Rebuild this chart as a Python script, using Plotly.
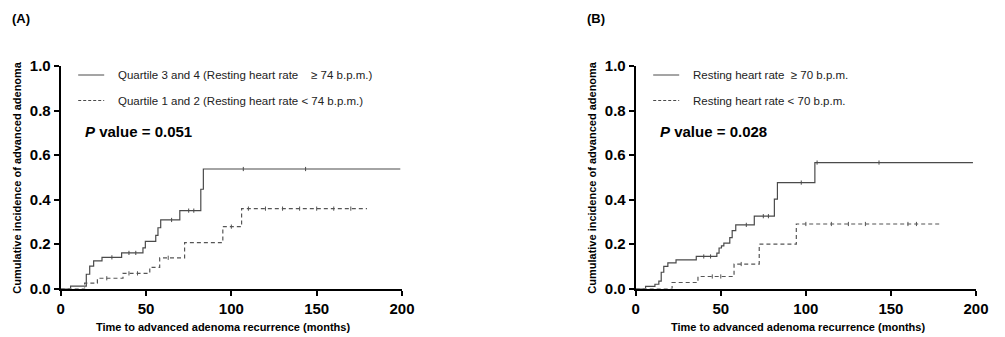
import plotly.graph_objects as go

# ---------------- data ----------------
a_hi_t = [0, 5.8, 15, 17, 19.3, 24.2, 35.7, 48.2, 49.6, 55.7, 57.0, 58.6, 69.8, 82.1, 83.6, 199]
a_hi_v = [0, 0.011, 0.064, 0.101, 0.124, 0.140, 0.160, 0.183, 0.212, 0.239, 0.273, 0.308, 0.350, 0.446, 0.537, 0.537]
a_lo_t = [0, 14, 21.5, 36.5, 52.2, 58, 72.6, 95, 106, 179.5]
a_lo_v = [0, 0.024, 0.046, 0.068, 0.095, 0.138, 0.206, 0.278, 0.359, 0.359]

b_hi_t = [0, 5.8, 11.3, 13.6, 15, 16.5, 18.9, 23.7, 35.6, 47.7, 49, 50.4, 51.8, 55.3, 56.7, 58.8, 69.7, 81.5, 83.3, 105.3, 198.2]
b_hi_v = [0, 0.010, 0.019, 0.033, 0.073, 0.099, 0.115, 0.129, 0.144, 0.159, 0.182, 0.192, 0.204, 0.229, 0.260, 0.286, 0.325, 0.402, 0.476, 0.566, 0.566]
b_lo_t = [0, 21.4, 36.6, 57.8, 72.6, 94.4, 179.3]
b_lo_v = [0, 0.027, 0.054, 0.110, 0.199, 0.290, 0.290]

# censored observations (tick marks)
a_hi_ct = [30, 40, 44, 65, 75, 78, 107, 143.5]
a_hi_cv = [0.140, 0.160, 0.160, 0.308, 0.350, 0.350, 0.537, 0.537]
a_lo_ct = [27, 40, 45, 63, 100, 110, 120, 130, 140, 150, 160, 170]
a_lo_cv = [0.046, 0.068, 0.068, 0.138, 0.278, 0.359, 0.359, 0.359, 0.359, 0.359, 0.359, 0.359]
b_hi_ct = [40, 44, 65, 75, 78, 97.3, 106.6, 143]
b_hi_cv = [0.144, 0.144, 0.286, 0.325, 0.325, 0.476, 0.566, 0.566]
b_lo_ct = [45, 50, 62, 100, 115, 125, 135, 160, 165]
b_lo_cv = [0.054, 0.054, 0.110, 0.290, 0.290, 0.290, 0.290, 0.290, 0.290]

x_ticks = [0, 50, 100, 150, 200]
y_ticks = [0.0, 0.2, 0.4, 0.6, 0.8, 1.0]
y_ticklabels = ["0.0", "0.2", "0.4", "0.6", "0.8", "1.0"]

panel_labels = ["(A)", "(B)"]
legend_hi = ["Quartile 3 and 4 (Resting heart rate    \u2265 74 b.p.m.)", "Resting heart rate  \u2265 70 b.p.m."]
legend_lo = ["Quartile 1 and 2 (Resting heart rate < 74 b.p.m.)", "Resting heart rate < 70 b.p.m."]
p_values = ["0.051", "0.028"]
x_title = "Time to advanced adenoma recurrence (months)"
y_title = "Cumulative incidence of advanced adenoma"

# ---------------- figure ----------------
W, H = 1005, 337
FONT = "Liberation Sans, Arial, sans-serif"
LINE_COL = "#4a4a4a"

def px_x(p):
    return p / W

def px_y(p):
    return 1 - p / H

fig = go.Figure()

panels = [
    dict(xa="x", ya="y", hi=(a_hi_t, a_hi_v, a_hi_ct, a_hi_cv), lo=(a_lo_t, a_lo_v, a_lo_ct, a_lo_cv),
         left=60.7, right=402.0),
    dict(xa="x2", ya="y2", hi=(b_hi_t, b_hi_v, b_hi_ct, b_hi_cv), lo=(b_lo_t, b_lo_v, b_lo_ct, b_lo_cv),
         left=635.7, right=976.0),
]

top_px, bot_px = 66.0, 288.5

for i, p in enumerate(panels):
    t, v, ct, cv = p["hi"]
    fig.add_trace(go.Scatter(x=t, y=v, mode="lines", line=dict(shape="hv", color=LINE_COL, width=1.2),
                             xaxis=p["xa"], yaxis=p["ya"], showlegend=False, hoverinfo="skip"))
    fig.add_trace(go.Scatter(x=ct, y=cv, mode="markers",
                             marker=dict(symbol="line-ns", size=3, line=dict(color=LINE_COL, width=1)),
                             xaxis=p["xa"], yaxis=p["ya"], showlegend=False, hoverinfo="skip"))
    t, v, ct, cv = p["lo"]
    fig.add_trace(go.Scatter(x=t, y=v, mode="lines", line=dict(shape="hv", color="#555555", width=1.2, dash="4px,3px"),
                             xaxis=p["xa"], yaxis=p["ya"], showlegend=False, hoverinfo="skip"))
    fig.add_trace(go.Scatter(x=ct, y=cv, mode="markers",
                             marker=dict(symbol="line-ns", size=3, line=dict(color="#555555", width=1)),
                             xaxis=p["xa"], yaxis=p["ya"], showlegend=False, hoverinfo="skip"))

axis_common = dict(showgrid=False, zeroline=False, showline=True, linecolor="black", linewidth=2,
                   ticks="outside", ticklen=5, tickwidth=2, tickcolor="black", automargin=False,
                   tickfont=dict(family=FONT, size=15, color="black", weight="bold"))

layout_axes = {}
for i, p in enumerate(panels):
    sfx = "" if i == 0 else str(i + 1)
    layout_axes["xaxis" + sfx] = dict(axis_common, domain=[px_x(p["left"]), px_x(p["right"])], range=[0, 200],
                                      tickvals=x_ticks, anchor="y" + sfx)
    layout_axes["yaxis" + sfx] = dict(axis_common, domain=[px_y(bot_px), px_y(top_px)], range=[0, 1.0],
                                      tickvals=y_ticks, ticktext=y_ticklabels, anchor="x" + sfx)

annotations = []
shapes = []
for i, p in enumerate(panels):
    left = p["left"]
    centre = (p["left"] + p["right"]) / 2
    # panel label
    annotations.append(dict(text="<b>%s</b>" % panel_labels[i], x=px_x(left - 51), y=px_y(19), xref="paper", yref="paper",
                            xanchor="left", yanchor="middle", showarrow=False,
                            font=dict(family=FONT, size=13, color="black")))
    # axis titles
    annotations.append(dict(text="<b>%s</b>" % x_title, x=px_x(centre - 8), y=px_y(327), xref="paper", yref="paper",
                            xanchor="center", yanchor="middle", showarrow=False,
                            font=dict(family=FONT, size=11, color="black")))
    annotations.append(dict(text="<b>%s</b>" % y_title, x=px_x(left - 44), y=px_y(177), xref="paper", yref="paper",
                            xanchor="center", yanchor="middle", showarrow=False, textangle=-90,
                            font=dict(family=FONT, size=11, color="black")))
    # legend
    for k, (lab, yy, dash) in enumerate([(legend_hi[i], 75, "solid"), (legend_lo[i], 100.5, "3px,2px")]):
        shapes.append(dict(type="line", xref="paper", yref="paper",
                           x0=px_x(left + 17.5), x1=px_x(left + 43.5), y0=px_y(yy), y1=px_y(yy),
                           line=dict(color=LINE_COL, width=1, dash=dash)))
        annotations.append(dict(text=lab, x=px_x(left + 55.5), y=px_y(yy), xref="paper", yref="paper",
                                xanchor="left", yanchor="middle", showarrow=False,
                                font=dict(family=FONT, size=11.5, color="#222222")))
    # p value
    annotations.append(dict(text="<b><i>P</i> value = %s</b>" % p_values[i], x=px_x(left + 22), y=px_y(131),
                            xref="paper", yref="paper", xanchor="left", yanchor="middle", showarrow=False,
                            font=dict(family=FONT, size=15, color="black")))

fig.update_layout(width=W, height=H, margin=dict(l=0, r=0, t=0, b=0, autoexpand=False),
                  paper_bgcolor="white", plot_bgcolor="white",
                  annotations=annotations, shapes=shapes, **layout_axes)

fig.write_html("out.html", config={"displayModeBar": False},
               post_script="document.body.style.margin='0';document.body.style.overflow='hidden';")
